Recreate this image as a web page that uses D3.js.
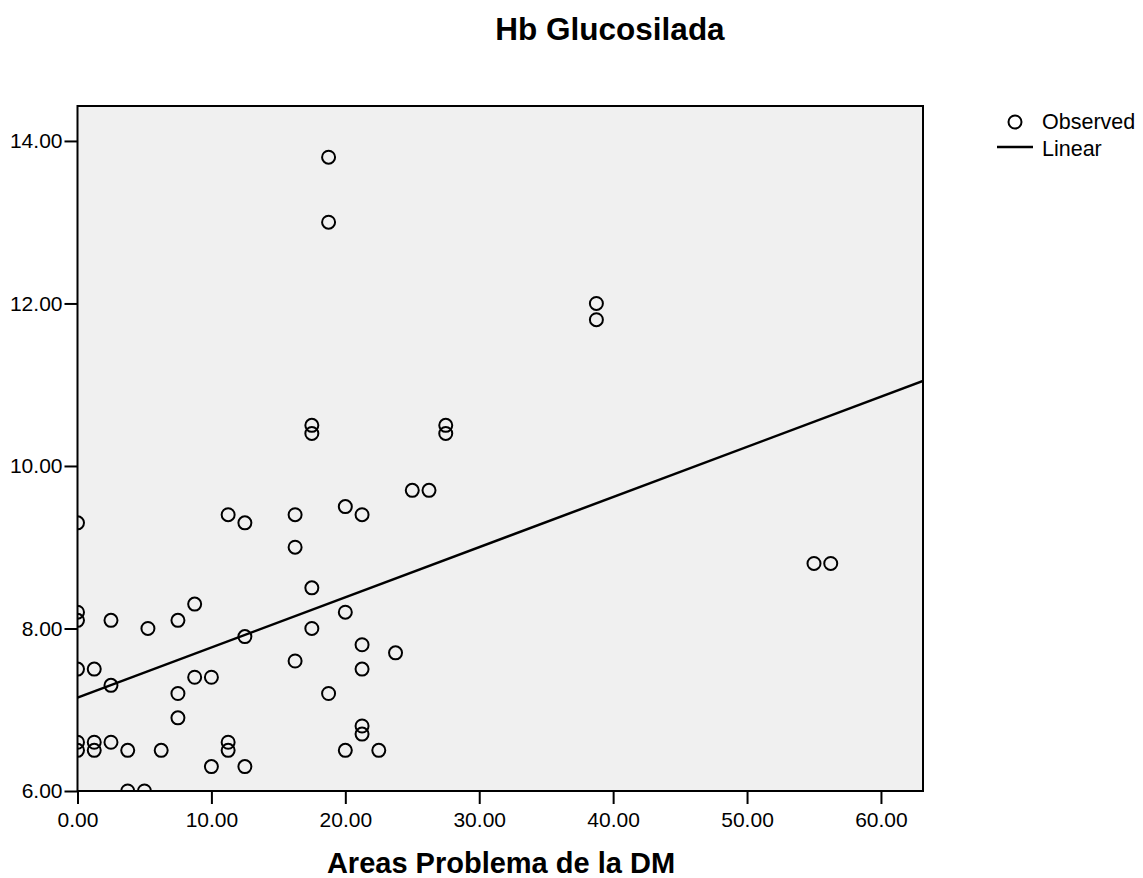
<!DOCTYPE html>
<html>
<head>
<meta charset="utf-8">
<script src="https://cdn.jsdelivr.net/npm/d3@7"></script>
<style>
  body { margin: 0; background: #fff; }
  text { font-family: "Liberation Sans", Arial, sans-serif; fill: #000; }
</style>
</head>
<body>
<div id="wrapper"></div>
<script>
// areas problema (x) and hb glucosilada (y), one entry per case
const areasProblema = [
    0, 0, 0, 0, 0, 0,
    1.25, 1.25, 1.25,
    2.5, 2.5, 2.5,
    3.75, 3.75,
    5.0, 5.26, 6.25,
    7.5, 7.5, 7.5,
    8.75, 8.75,
    10, 10,
    11.25, 11.25, 11.25,
    12.5, 12.5, 12.5,
    16.25, 16.25, 16.25,
    17.5, 17.5, 17.5, 17.5,
    18.75, 18.75, 18.75,
    20, 20, 20,
    21.25, 21.25, 21.25, 21.25, 21.25,
    22.5, 23.75, 25, 26.25,
    27.5, 27.5,
    38.75, 38.75,
    55, 56.25
];
const hbGlucosilada = [
    9.3, 8.2, 8.1, 7.5, 6.6, 6.5,
    7.5, 6.6, 6.5,
    8.1, 7.3, 6.6,
    6.5, 6.0,
    6.0, 8.0, 6.5,
    8.1, 7.2, 6.9,
    8.3, 7.4,
    7.4, 6.3,
    9.4, 6.6, 6.5,
    9.3, 7.9, 6.3,
    9.4, 9.0, 7.6,
    10.5, 10.4, 8.5, 8.0,
    13.8, 13.0, 7.2,
    9.5, 8.2, 6.5,
    9.4, 7.8, 7.5, 6.8, 6.7,
    6.5, 7.7, 9.7, 9.7,
    10.5, 10.4,
    12.0, 11.8,
    8.8, 8.8
];
// linear fit
const linearIntercept = 7.15;
const linearSlope = 0.0617;

const xTicks = [0, 10, 20, 30, 40, 50, 60];
const yTicks = [6, 8, 10, 12, 14];
const xDomain = [0, 63.14];
const yDomain = [6, 14.43];

const dataset = areasProblema.map((x, i) => ({x: x, y: hbGlucosilada[i]}));

const dimensions = {
    width: 1143,
    height: 878,
    plot: {left: 77.5, right: 923, top: 106, bottom: 791}
};

const svg = d3.select("#wrapper")
    .append("svg")
        .attr("width", dimensions.width)
        .attr("height", dimensions.height);

const xScale = d3.scaleLinear()
    .domain(xDomain)
    .range([dimensions.plot.left, dimensions.plot.right]);
const yScale = d3.scaleLinear()
    .domain(yDomain)
    .range([dimensions.plot.bottom, dimensions.plot.top]);

// title
svg.append("text")
    .attr("x", 610)
    .attr("y", 40)
    .attr("text-anchor", "middle")
    .style("font-size", "31.5px")
    .style("font-weight", "bold")
    .text("Hb Glucosilada");

// plot background
svg.append("rect")
    .attr("x", dimensions.plot.left)
    .attr("y", dimensions.plot.top)
    .attr("width", dimensions.plot.right - dimensions.plot.left)
    .attr("height", dimensions.plot.bottom - dimensions.plot.top)
    .attr("fill", "#f0f0f0");

svg.append("clipPath")
    .attr("id", "plot-clip")
  .append("rect")
    .attr("x", dimensions.plot.left)
    .attr("y", dimensions.plot.top)
    .attr("width", dimensions.plot.right - dimensions.plot.left)
    .attr("height", dimensions.plot.bottom - dimensions.plot.top);

const plot = svg.append("g").attr("clip-path", "url(#plot-clip)");

// regression line
plot.append("line")
    .attr("x1", xScale(xDomain[0]))
    .attr("y1", yScale(linearIntercept + linearSlope * xDomain[0]))
    .attr("x2", xScale(xDomain[1]))
    .attr("y2", yScale(linearIntercept + linearSlope * xDomain[1]))
    .attr("stroke", "#000")
    .attr("stroke-width", 2.5);

plot.selectAll("circle")
    .data(dataset)
    .join("circle")
        .attr("cx", d => xScale(d.x))
        .attr("cy", d => yScale(d.y))
        .attr("r", 6.5)
        .attr("fill", "none")
        .attr("stroke", "#000")
        .attr("stroke-width", 2);

// frame
svg.append("rect")
    .attr("x", dimensions.plot.left)
    .attr("y", dimensions.plot.top)
    .attr("width", dimensions.plot.right - dimensions.plot.left)
    .attr("height", dimensions.plot.bottom - dimensions.plot.top)
    .attr("fill", "none")
    .attr("stroke", "#000")
    .attr("stroke-width", 2);

const xAxis = svg.append("g")
    .attr("transform", `translate(0, ${dimensions.plot.bottom})`)
    .call(d3.axisBottom(xScale)
        .tickValues(xTicks)
        .tickFormat(d3.format(".2f"))
        .tickSize(13)
        .tickPadding(8));

const yAxis = svg.append("g")
    .attr("transform", `translate(${dimensions.plot.left}, 0)`)
    .call(d3.axisLeft(yScale)
        .tickValues(yTicks)
        .tickFormat(d3.format(".2f"))
        .tickSize(13)
        .tickPadding(2));

[xAxis, yAxis].forEach(axis => {
    axis.select(".domain").remove();
    axis.selectAll(".tick line").attr("stroke", "#000").attr("stroke-width", 2);
    axis.selectAll(".tick text")
        .attr("fill", "#000")
        .style("font-size", "21px")
        .style("font-family", "'Liberation Sans', Arial, sans-serif");
});

// x axis title
svg.append("text")
    .attr("x", 501)
    .attr("y", 873)
    .attr("text-anchor", "middle")
    .style("font-size", "29px")
    .style("font-weight", "bold")
    .text("Areas Problema de la DM");

// legend
const legend = svg.append("g");
legend.append("circle")
    .attr("cx", 1015)
    .attr("cy", 122)
    .attr("r", 6.5)
    .attr("fill", "none")
    .attr("stroke", "#000")
    .attr("stroke-width", 2);
legend.append("text")
    .attr("x", 1042)
    .attr("y", 129)
    .style("font-size", "21.5px")
    .text("Observed");
legend.append("line")
    .attr("x1", 997)
    .attr("x2", 1033)
    .attr("y1", 147)
    .attr("y2", 147)
    .attr("stroke", "#000")
    .attr("stroke-width", 2.5);
legend.append("text")
    .attr("x", 1042)
    .attr("y", 156)
    .style("font-size", "21.5px")
    .text("Linear");
</script>
</body>
</html>
